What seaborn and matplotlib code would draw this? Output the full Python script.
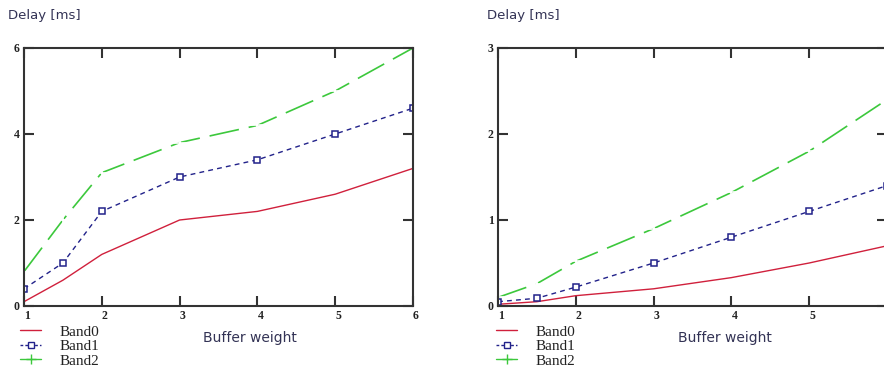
import matplotlib
matplotlib.use("Agg")
import matplotlib.pyplot as plt
import seaborn as sns
import pandas as pd
from matplotlib.lines import Line2D

x_vals = [1, 1.5, 2, 3, 4, 5, 6]
left_band0 = [0.1, 0.6, 1.2, 2.0, 2.2, 2.6, 3.2]
left_band1 = [0.4, 1.0, 2.2, 3.0, 3.4, 4.0, 4.6]
left_band2 = [0.8, 2.0, 3.1, 3.8, 4.2, 5.0, 6.0]
right_band0 = [0.02, 0.05, 0.12, 0.2, 0.33, 0.5, 0.7]
right_band1 = [0.05, 0.09, 0.22, 0.5, 0.8, 1.1, 1.4]
right_band2 = [0.1, 0.26, 0.52, 0.9, 1.32, 1.8, 2.4]
band_names = ["Band0", "Band1", "Band2"]
x_ticks = [1, 2, 3, 4, 5, 6]
left_yticks = [0, 2, 4, 6]
right_yticks = [0, 1, 2, 3]

sns.set_style("white")
plt.rcParams['font.family'] = ['DejaVu Sans']

colors = {"Band0": "#d0203c", "Band1": "#22228a", "Band2": "#3cc83c"}
styles = {
    "Band0": dict(marker=None, dashes=None, lw=1.0),
    "Band1": dict(marker="s", dashes=(3.5, 3.0), lw=1.0),
    "Band2": dict(marker="+", dashes=(18, 6), lw=1.2),
}

fig = plt.figure(figsize=(8.84, 3.83), dpi=100)
ax_l = fig.add_axes([24/884, 1-306/383, 389/884, 258/383])
ax_r = fig.add_axes([498/884, 1-306/383, 389/884, 258/383])

def draw(ax, series, yticks):
    for name, vals in zip(band_names, series):
        df = pd.DataFrame({"x": x_vals, "y": vals})
        st = styles[name]
        kw = dict(data=df, x="x", y="y", ax=ax, color=colors[name], lw=st["lw"])
        if st["marker"] == "s":
            kw.update(marker="s", markersize=5, markerfacecolor="white",
                      markeredgecolor=colors[name], markeredgewidth=1.1)
        elif st["marker"] == "+":
            kw.update(marker="+", markersize=8, markeredgewidth=1.2)
        line = sns.lineplot(**kw).lines[-1]
        if st["dashes"] is not None:
            line.set_dashes(st["dashes"])
    ax.set_xlim(1, 6)
    ax.set_ylim(yticks[0], yticks[-1])
    ax.set_xticks(x_ticks)
    ax.set_yticks(yticks)
    ax.set_xlabel("")
    ax.set_ylabel("")
    for s in ax.spines.values():
        s.set_color("#333333")
        s.set_linewidth(1.5)
        s.set_visible(True)
    ax.tick_params(direction="in", length=7, width=1.5, color="#333333",
                   top=True, right=True, bottom=True, left=True,
                   labelsize=8.5, labelcolor="#222222", pad=3)
    for lab in ax.get_xticklabels() + ax.get_yticklabels():
        lab.set_fontfamily("Liberation Serif")
        lab.set_fontweight("bold")
    for lab in ax.get_xticklabels():
        lab.set_horizontalalignment("left")
    ax.set_facecolor("white")

draw(ax_l, [left_band0, left_band1, left_band2], left_yticks)
draw(ax_r, [right_band0, right_band1, right_band2], right_yticks)

txtc = "#333355"
fig.text(8/884, 1-15/383, "Delay [ms]", fontsize=9.5, color=txtc, va="center", ha="left")
fig.text(487/884, 1-15/383, "Delay [ms]", fontsize=9.5, color=txtc, va="center", ha="left")
fig.text(250/884, 1-338/383, "Buffer weight", fontsize=10, color=txtc, va="center", ha="center")
fig.text(725/884, 1-338/383, "Buffer weight", fontsize=10, color=txtc, va="center", ha="center")

def legend_handles():
    hs = []
    for name in band_names:
        st = styles[name]
        h = Line2D([0], [0], color=colors[name], lw=1.0,
                   linestyle="-" if st["dashes"] is None else (0, (2, 1.5)))
        if st["marker"] == "s":
            h.set_marker("s"); h.set_markersize(4.5)
            h.set_markerfacecolor("white"); h.set_markeredgecolor(colors[name])
        elif st["marker"] == "+":
            h.set_linestyle("-"); h.set_marker("+"); h.set_markersize(7)
        hs.append(h)
    return hs

for x0 in [20/884, 496/884]:
    fig.legend(legend_handles(), band_names, loc="upper left",
               bbox_to_anchor=(x0, 1-325/383), frameon=False,
               prop={"family": "Liberation Serif", "size": 11},
               handlelength=1.4, handletextpad=1.2, labelspacing=0.05,
               borderaxespad=0, borderpad=0, labelcolor="#222222")

fig.savefig("out.png", dpi=100)
